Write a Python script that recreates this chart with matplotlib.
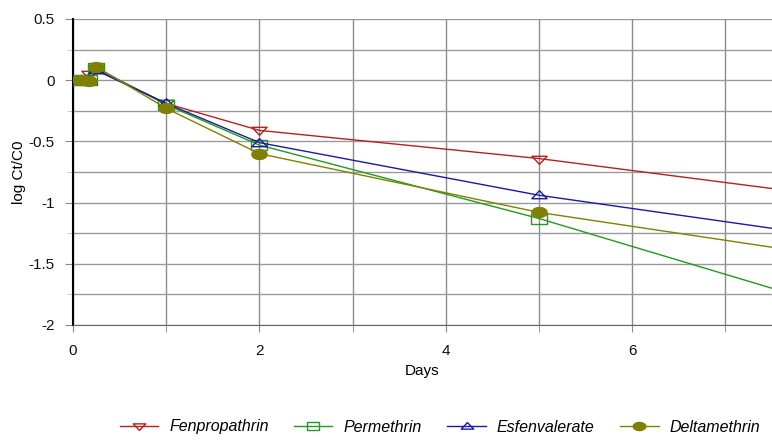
import numpy as np
import matplotlib.pyplot as plt
from matplotlib.path import Path
from matplotlib.ticker import MultipleLocator

plt.rcParams['font.family'] = ['Liberation Sans', 'DejaVu Sans']

# sampling times (days) and log(Ct/C0) for each compound
days = [0.08, 0.17, 0.25, 1, 2, 5, 10]
fenpropathrin = [0.0, 0.05, 0.09, -0.19, -0.41, -0.64, -1.13]
permethrin = [0.0, 0.0, 0.10, -0.20, -0.53, -1.13, -2.27]
esfenvalerate = [0.0, 0.0, 0.08, -0.19, -0.51, -0.94, -1.48]
deltamethrin = [0.0, -0.01, 0.11, -0.23, -0.60, -1.08, -1.65]

names = ["Fenpropathrin", "Permethrin", "Esfenvalerate", "Deltamethrin"]
colors = ["#b22222", "#229922", "#1a1aa0", "#808000"]


def _squashed(verts, sy=0.7):
    v = np.asarray(verts, float)
    v[:, 1] *= sy
    return Path(v, closed=True)


tri_down = _squashed([(-1, 0.6), (1, 0.6), (0, -0.9), (-1, 0.6)])
tri_up = _squashed([(-1, -0.6), (1, -0.6), (0, 0.9), (-1, -0.6)])
box = _squashed([(-1, -1), (1, -1), (1, 1), (-1, 1), (-1, -1)])
t = np.linspace(0, 2 * np.pi, 40)
ellipse = _squashed(np.column_stack([np.cos(t), np.sin(t)]), 0.65)

markers = [tri_down, box, tri_up, ellipse]
series = [fenpropathrin, permethrin, esfenvalerate, deltamethrin]

fig = plt.figure(figsize=(7.72, 4.46), dpi=100)
ax = fig.add_axes([73 / 772, 1 - 325 / 446, 1 - 73 / 772, 306 / 446])

handles = []
for name, vals, c, m in zip(names, series, colors, markers):
    filled = name == "Deltamethrin"
    h, = ax.plot(days, vals, color=c, lw=1.0, marker=m, markersize=11,
                 markerfacecolor=c if filled else "none",
                 markeredgecolor=c, markeredgewidth=1.0, label=name,
                 clip_on=True, zorder=3)
    handles.append(h)

ax.set_xlim(0, 7.5)
ax.set_ylim(-2, 0.5)
ax.xaxis.set_major_locator(MultipleLocator(2))
ax.xaxis.set_minor_locator(MultipleLocator(1))
ax.yaxis.set_major_locator(MultipleLocator(0.5))
ax.yaxis.set_minor_locator(MultipleLocator(0.25))
ax.set_yticks([0.5, 0, -0.5, -1, -1.5, -2])
ax.set_yticklabels(["0.5", "0", "-0.5", "-1", "-1.5", "-2"])

ax.grid(True, which="both", axis="x", color="#8c8c8c", lw=1.0, zorder=0)
ax.grid(True, which="both", axis="y", color="#9a9a9a", lw=1.0, zorder=0)
ax.set_axisbelow(True)

ax.tick_params(axis="both", which="both", labelsize=11, colors="#888888",
               labelcolor="#111111")
ax.tick_params(axis="x", which="both", length=5, pad=9)
ax.tick_params(axis="y", which="major", length=6, pad=7)
ax.tick_params(axis="y", which="minor", length=4, color="#bbbbbb")

ax.spines["left"].set_color("black")
ax.spines["left"].set_linewidth(1.5)
ax.spines["bottom"].set_color("#666666")
ax.spines["top"].set_visible(False)
ax.spines["right"].set_visible(False)

ax.set_xlabel("Days", fontsize=11, labelpad=4)
ax.set_ylabel("log Ct/C0", fontsize=11, labelpad=2)

leg = fig.legend(handles=handles, loc="center", ncol=4, frameon=False,
                 bbox_to_anchor=(440 / 772, 1 - 427 / 446),
                 handlelength=2.4, columnspacing=1.6, handletextpad=0.7,
                 prop={"size": 11.5, "style": "italic"})
for line in leg.get_lines():
    line.set_markersize(9)

fig.savefig("out.png", dpi=100)
